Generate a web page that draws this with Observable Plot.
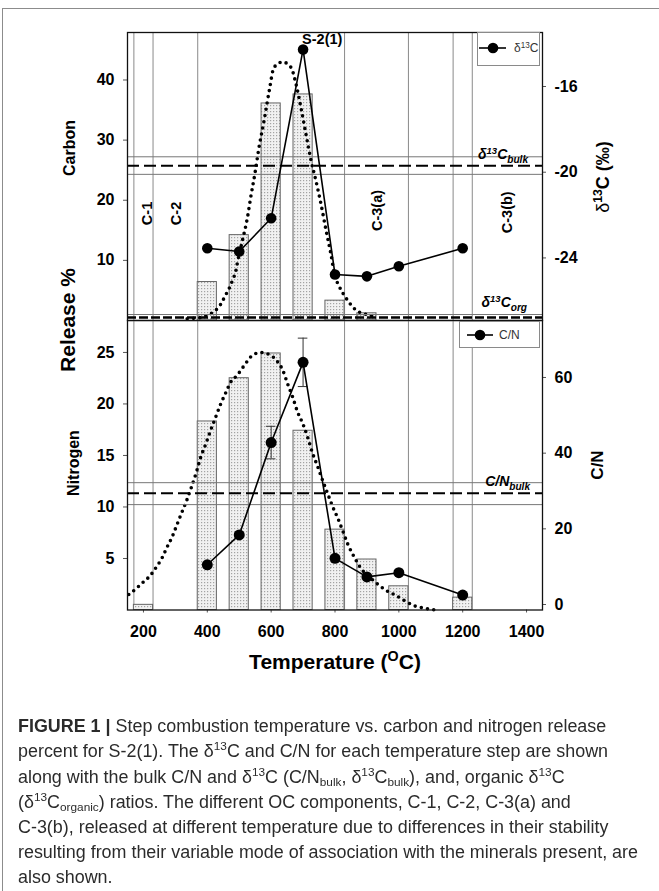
<!DOCTYPE html>
<html><head><meta charset="utf-8">
<script src="https://cdn.jsdelivr.net/npm/d3@7"></script>
<script src="https://cdn.jsdelivr.net/npm/@observablehq/plot@0.6"></script>
<style>
html,body{margin:0;padding:0;background:#fff;overflow:hidden;}
#wrap{position:relative;width:659px;height:891px;overflow:hidden;font-family:"Liberation Sans",Arial,Helvetica,sans-serif;}
.layer{position:absolute;left:0;top:0;}
.lab{position:absolute;white-space:nowrap;line-height:1;color:#000;}
.lab sup{font-size:0.68em;line-height:0;vertical-align:0.55em;}
.lab sub{font-size:0.72em;line-height:0;vertical-align:-0.35em;}
#frame{position:absolute;left:2px;top:8px;width:700px;height:900px;border-top:1px solid #8c8c8c;border-left:1px solid #8c8c8c;}
#caption{position:absolute;left:18px;top:0;transform-origin:0 0;font-family:"Liberation Sans Narrow","Liberation Sans",Arial,sans-serif;color:#2b2b2b;}
#caption .ln{position:absolute;left:0;white-space:nowrap;line-height:1;font-size:17.5px;}
#caption sup,#caption sub{font-size:0.66em;line-height:0;}
#caption sup{vertical-align:0.6em;}
#caption sub{vertical-align:-0.3em;}
</style></head><body>
<svg width="0" height="0" style="position:absolute"><defs>
<pattern id="stipple" width="3" height="3" patternUnits="userSpaceOnUse">
<rect width="3" height="3" fill="#f1f1f1"></rect><rect width="1.2" height="1.2" fill="#a3a3a3"></rect>
</pattern></defs></svg>
<div id="wrap"><div id="frame"></div></div>
<script>
// ---------------- data ----------------
const temps = [200, 400, 500, 600, 700, 800, 900, 1000, 1200];
const carbonPct = [0, 6.4, 14.2, 36.1, 37.6, 3.3, 1.2, 0, 0];
const nitrogenPct = [0.5, 18.3, 22.5, 24.9, 17.4, 7.8, 4.9, 2.3, 1.2];

const stepTemps = [400, 500, 600, 700, 800, 900, 1000, 1200];
const d13C = [-23.55, -23.7, -22.15, -14.27, -24.77, -24.86, -24.39, -23.55];
const cnRatio = [10.5, 18.4, 42.8, 64.0, 12.2, 7.3, 8.4, 2.5];

const cnErrTemps = [600, 700];
const cnErrLow = [38.5, 57.6];
const cnErrHigh = [47.1, 70.4];

const bulkD13C = -19.7;
const bulkD13CRange = [-20.1, -19.28];
const orgD13C = -26.78;
const orgD13CRange = [-26.92, -26.64];
const bulkCN = 29.4;
const bulkCNRange = [26.4, 32.2];

// fitted release curves (dotted)
const carbonFitT = [337, 379, 405, 426, 442, 456, 468, 479, 490, 495, 510, 526, 536, 549, 562, 578, 594, 609, 636, 662, 678, 693, 709, 725, 740, 756, 772, 787, 798, 814, 835, 850, 869, 892, 918];
const carbonFitV = [0.3, 0.5, 1.0, 1.7, 2.7, 4.1, 5.3, 6.7, 8.4, 9.8, 13.3, 17.2, 20.5, 24.4, 28.8, 33.3, 38.2, 42.1, 43.0, 42.1, 39.3, 35.5, 31.0, 26.6, 23.3, 19.4, 15.0, 11.1, 7.8, 5.6, 3.7, 2.6, 1.6, 1.1, 0.7];
const nitrogenFitT = [154, 178, 199, 220, 241, 259, 274, 290, 304, 318, 335, 350, 366, 379, 395, 410, 426, 442, 458, 473, 494, 515, 541, 568, 594, 620, 636, 651, 667, 683, 699, 714, 730, 746, 761, 777, 793, 809, 824, 840, 861, 882, 908, 934, 960, 992, 1018, 1049, 1076, 1102, 1128];
const nitrogenFitV = [1.5, 2.1, 2.7, 3.3, 4.2, 5.1, 6.1, 7.1, 8.2, 9.3, 10.6, 11.9, 13.4, 14.8, 16.1, 17.4, 18.7, 20.0, 21.1, 22.1, 22.8, 23.7, 24.7, 25.0, 24.8, 24.1, 23.3, 22.0, 20.7, 19.2, 18.1, 16.8, 15.2, 13.9, 12.6, 11.3, 10.0, 8.9, 7.7, 6.4, 5.1, 4.0, 3.2, 2.5, 1.9, 1.4, 0.9, 0.4, 0.2, 0.05, 0];

const componentBounds = [170, 230, 370, 830, 1030, 1170, 1230];
const componentLabels = ["C-1", "C-2", "C-3(a)", "C-3(b)"];
const componentLabelT = [212, 304, 933, 1340];
const componentLabelV = [17.8, 17.8, 18.3, 18.0];

const sampleName = "S-2(1)";
const sampleLabelT = 760;
const sampleLabelV = 46.8;

const xTicks = [200, 400, 600, 800, 1000, 1200, 1400];
const carbonTicks = [10, 20, 30, 40];
const nitrogenTicks = [5, 10, 15, 20, 25];
const d13CTicks = [-24, -20, -16];
const cnTicks = [0, 20, 40, 60];

// ---------------- tables ----------------
const carbonRows = temps.map((t, i) => ({t, v: carbonPct[i]})).filter(d => d.v > 0);
const nitrogenRows = temps.map((t, i) => ({t, v: nitrogenPct[i]}));
const d13Rows = stepTemps.map((t, i) => ({t, v: d13C[i]}));
const cnRows = stepTemps.map((t, i) => ({t, v: cnRatio[i]}));
const cnErrRows = cnErrTemps.map((t, i) => ({t, lo: cnErrLow[i], hi: cnErrHigh[i]}));
const carbonFit = carbonFitT.map((t, i) => ({t, v: carbonFitV[i]}));
const nitrogenFit = nitrogenFitT.map((t, i) => ({t, v: nitrogenFitV[i]}));
const componentRows = componentLabels.map((label, i) => ({label, t: componentLabelT[i], v: componentLabelV[i]}));

// ---------------- layout ----------------
const W = 659, H = 690;
const ML = 127, MR = 117;
const TOP = 32, MID = 320, BOT = 609.5;
const xDomain = [150, 1450];
const BAR_HALF = 30;
const FONT = '"Liberation Sans", Arial, Helvetica, sans-serif';
const wrap = document.getElementById("wrap");

function layer(opts) {
  const svg = Plot.plot({
    width: W, height: H, marginLeft: ML, marginRight: MR,
    style: {fontFamily: FONT, fontSize: "16px", fontWeight: "bold", background: "transparent", color: "#000", overflow: "visible"},
    ...opts
  });
  svg.classList.add("layer");
  wrap.appendChild(svg);
  return svg;
}

const dotted = {curve: "monotone-x", stroke: "#000", strokeWidth: 3.6, strokeDasharray: "0,6.3", strokeLinecap: "round"};
const barStyle = {x1: d => d.t - BAR_HALF, x2: d => d.t + BAR_HALF, y1: () => 0, y2: "v", fill: "url(#stipple)", stroke: "#666", strokeWidth: 1};

// top panel, carbon release (left axis)
const pTL = layer({
  marginTop: TOP, marginBottom: H - MID,
  x: {domain: xDomain, axis: null},
  y: {domain: [0, 47.9]},
  marks: [
    Plot.ruleX(componentBounds, {stroke: "#8a8a8a", strokeWidth: 1}),
    Plot.rect(carbonRows, barStyle),
    Plot.line(carbonFit, {x: "t", y: "v", ...dotted}),
    Plot.axisY({anchor: "left", ticks: carbonTicks, tickSize: 4, tickPadding: 9, label: null, stroke: "#555"}),
    Plot.text(componentRows, {x: "t", y: "v", text: "label", rotate: -90, fontSize: 14.5, fontWeight: "bold", fill: "#000"}),
    Plot.text([sampleName], {x: () => sampleLabelT, y: () => sampleLabelV, text: d => d, fontSize: 14.5, fontWeight: "bold", fill: "#000"})
  ]
});

// top panel, delta13C (right axis)
const pTR = layer({
  marginTop: TOP, marginBottom: H - MID,
  x: {domain: xDomain, axis: null},
  y: {domain: [-26.92, -13.48]},
  marks: [
    Plot.ruleY([...bulkD13CRange, ...orgD13CRange], {stroke: "#777", strokeWidth: 1}),
    Plot.ruleY([bulkD13C], {stroke: "#000", strokeWidth: 2, strokeDasharray: "12,5"}),
    Plot.ruleY([orgD13C], {stroke: "#000", strokeWidth: 2.4, strokeDasharray: "9,3"}),
    Plot.line(d13Rows, {x: "t", y: "v", stroke: "#000", strokeWidth: 1.6}),
    Plot.dot(d13Rows, {x: "t", y: "v", r: 5.3, fill: "#000", stroke: "none"}),
    Plot.axisY({anchor: "right", ticks: d13CTicks, tickFormat: d => String(d), tickSize: 3, tickPadding: 9, label: null, stroke: "#555"}),
    Plot.frame({stroke: "#111", strokeWidth: 1.3})
  ]
});

// bottom panel, nitrogen release (left axis) + x axis
const pBL = layer({
  marginTop: MID, marginBottom: H - BOT,
  x: {domain: xDomain},
  y: {domain: [0, 28.1]},
  marks: [
    Plot.ruleX(componentBounds, {stroke: "#8a8a8a", strokeWidth: 1}),
    Plot.rect(nitrogenRows, barStyle),
    Plot.line(nitrogenFit, {x: "t", y: "v", ...dotted}),
    Plot.axisY({anchor: "left", ticks: nitrogenTicks, tickSize: 4, tickPadding: 9, label: null, stroke: "#555"}),
    Plot.axisX({anchor: "bottom", ticks: xTicks, tickFormat: d => String(d), tickSize: 3, tickPadding: 13, label: null, stroke: "#555"})
  ]
});

// bottom panel, C/N (right axis)
const pBR = layer({
  marginTop: MID, marginBottom: H - BOT,
  x: {domain: xDomain, axis: null},
  y: {domain: [-1.45, 75.06]},
  marks: [
    Plot.ruleY(bulkCNRange, {stroke: "#777", strokeWidth: 1}),
    Plot.ruleY([bulkCN], {stroke: "#000", strokeWidth: 2, strokeDasharray: "12,5"}),
    Plot.ruleX(cnErrRows, {x: "t", y1: "lo", y2: "hi", stroke: "#333", strokeWidth: 1}),
    Plot.ruleY(cnErrRows, {y: "lo", x1: d => d.t - 15, x2: d => d.t + 15, stroke: "#333", strokeWidth: 1}),
    Plot.ruleY(cnErrRows, {y: "hi", x1: d => d.t - 15, x2: d => d.t + 15, stroke: "#333", strokeWidth: 1}),
    Plot.line(cnRows, {x: "t", y: "v", stroke: "#000", strokeWidth: 1.6}),
    Plot.dot(cnRows, {x: "t", y: "v", r: 5.5, fill: "#000", stroke: "none"}),
    Plot.axisY({anchor: "right", ticks: cnTicks, tickFormat: d => String(d), tickSize: 3, tickPadding: 9, label: null, stroke: "#555"}),
    Plot.frame({stroke: "#111", strokeWidth: 1.3})
  ]
});

// ---------------- text annotations ----------------
function label(html, o) {
  const d = document.createElement("div");
  d.className = "lab";
  d.innerHTML = html;
  const fs = o.size || 16;
  d.style.fontSize = fs + "px";
  d.style.fontWeight = o.weight || "bold";
  if (o.italic) d.style.fontStyle = "italic";
  if (o.color) d.style.color = o.color;
  if (o.rotate) {
    d.style.left = o.cx + "px";
    d.style.top = o.cy + "px";
    d.style.transform = "translate(-50%,-50%) rotate(-90deg)";
  } else if (o.cx !== undefined) {
    d.style.left = o.cx + "px";
    d.style.top = (o.baseline - 0.85 * fs) + "px";
    d.style.transform = "translateX(-50%)";
  } else if (o.right !== undefined) {
    d.style.right = (W - o.right) + "px";
    d.style.top = (o.baseline - 0.85 * fs) + "px";
  } else {
    d.style.left = o.left + "px";
    d.style.top = (o.baseline - 0.85 * fs) + "px";
  }
  wrap.appendChild(d);
  return d;
}

const yTR = pTR.scale("y"), yBR = pBR.scale("y");
label("δ<sup>13</sup>C<sub>bulk</sub>", {right: 528, baseline: yTR.apply(bulkD13C) - 6.5, size: 14, italic: true});
label("δ<sup>13</sup>C<sub>org</sub>", {right: 527, baseline: yTR.apply(orgD13C) - 10, size: 14, italic: true});
label("C/N<sub>bulk</sub>", {right: 530, baseline: yBR.apply(bulkCN) - 6.5, size: 14, italic: true});

label("Carbon", {rotate: true, cx: 70, cy: 148, size: 16});
label("Nitrogen", {rotate: true, cx: 74, cy: 463, size: 16});
label("Release %", {rotate: true, cx: 67, cy: 320, size: 21});
label("<span style=\"font-weight:normal\">δ</span><sup>13</sup>C (‰)", {rotate: true, cx: 603, cy: 177, size: 18});
label("C/N", {rotate: true, cx: 597, cy: 465, size: 17});
label("Temperature (<sup>O</sup>C)", {cx: 335, baseline: 669, size: 21});

// legends
function legend(text, box, lineY, x0, x1, mx, textLeft) {
  const b = document.createElement("div");
  b.style.cssText = `position:absolute;left:${box[0]}px;top:${box[1]}px;width:${box[2]}px;height:${box[3]}px;border:1px solid #8a8a8a;background:#fff;box-sizing:border-box;`;
  wrap.appendChild(b);
  const s = d3.create("svg").attr("width", W).attr("height", 400)
    .style("position", "absolute").style("left", 0).style("top", 0).style("pointer-events", "none");
  s.append("line").attr("x1", x0).attr("x2", x1).attr("y1", lineY).attr("y2", lineY).attr("stroke", "#000").attr("stroke-width", 1.6);
  s.append("circle").attr("cx", mx).attr("cy", lineY).attr("r", 5.3).attr("fill", "#000");
  wrap.appendChild(s.node());
  label(text, {left: textLeft, baseline: lineY + 4, size: 12, weight: "normal", color: "#333"});
}
legend("δ<sup>13</sup>C", [477, 32, 63, 34], 48, 479, 506, 493, 514);
legend("C/N", [459, 321, 81, 27], 335, 467, 493, 480, 499);

// ---------------- caption ----------------
const cap = document.createElement("div");
cap.id = "caption";
const capLines = [
  "<b>FIGURE 1 |</b> Step combustion temperature vs. carbon and nitrogen release",
  "percent for S-2(1). The δ<sup>13</sup>C and C/N for each temperature step are shown",
  "along with the bulk C/N and δ<sup>13</sup>C (C/N<sub>bulk</sub>, δ<sup>13</sup>C<sub>bulk</sub>), and, organic δ<sup>13</sup>C",
  "(δ<sup>13</sup>C<sub>organic</sub>) ratios. The different OC components, C-1, C-2, C-3(a) and",
  "C-3(b), released at different temperature due to differences in their stability",
  "resulting from their variable mode of association with the minerals present, are",
  "also shown."
];
const capFs = 17.5;
capLines.forEach((h, i) => {
  const l = document.createElement("div");
  l.className = "ln";
  l.innerHTML = h;
  l.style.top = (733 + i * 25.2 - 0.85 * capFs) + "px";
  cap.appendChild(l);
});
wrap.appendChild(cap);
const w6 = cap.children[5].getBoundingClientRect().width;
cap.style.transform = `scaleX(${620 / w6})`;
</script>
</body></html>
